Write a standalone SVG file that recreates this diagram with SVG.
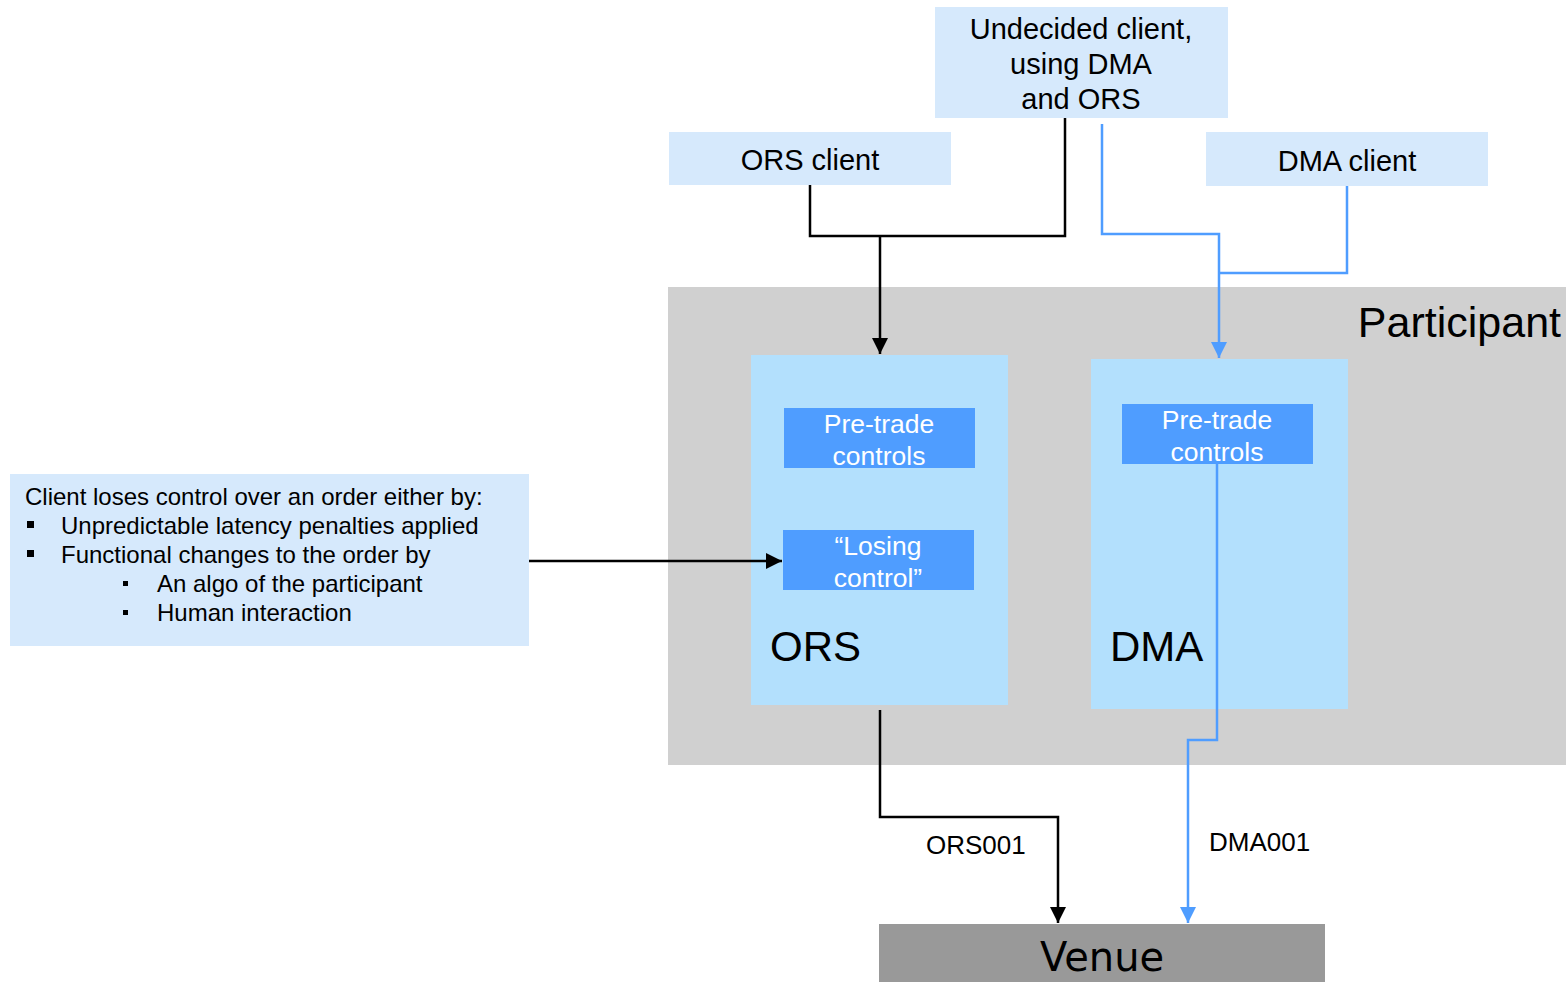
<svg xmlns="http://www.w3.org/2000/svg" width="1566" height="982" viewBox="0 0 1566 982">
<defs>
<style>
.client{fill:#d6e9fc}
.box{fill:#b3e0fd}
.ctl{fill:#4f9dff}
.t{font-family:"Liberation Sans",Arial,sans-serif;fill:#000}
.w{font-family:"Liberation Sans",Arial,sans-serif;fill:#fff;font-size:26.5px;text-anchor:middle}
.blk{stroke:#000;stroke-width:2.5;fill:none}
.blu{stroke:#4f9dff;stroke-width:2.5;fill:none}
</style>
<marker id="ablk" viewBox="0 0 10 10" refX="10" refY="5" markerWidth="16" markerHeight="16" orient="auto" markerUnits="userSpaceOnUse"><path d="M0,0 L10,5 L0,10 z" fill="#000"/></marker>
<marker id="ablu" viewBox="0 0 10 10" refX="10" refY="5" markerWidth="16" markerHeight="16" orient="auto" markerUnits="userSpaceOnUse"><path d="M0,0 L10,5 L0,10 z" fill="#4f9dff"/></marker>
</defs>
<rect width="1566" height="982" fill="#fff"/>
<g id="participant">
<rect x="668" y="287" width="898" height="478" fill="#d0d0d0"/>
<text class="t" x="1561" y="337" font-size="43" text-anchor="end">Participant</text>
</g>
<g id="undecided-client">
<rect class="client" x="935" y="7" width="293" height="111"/>
<text class="t" font-size="29" text-anchor="middle"><tspan x="1081" y="39">Undecided client,</tspan><tspan x="1081" y="74">using DMA</tspan><tspan x="1081" y="109">and ORS</tspan></text>
</g>
<g id="ors-client">
<rect class="client" x="669" y="132" width="282" height="53"/>
<text class="t" x="810" y="170" font-size="29" text-anchor="middle">ORS client</text>
</g>
<g id="dma-client">
<rect class="client" x="1206" y="132" width="282" height="54"/>
<text class="t" x="1347" y="171" font-size="29" text-anchor="middle">DMA client</text>
</g>
<g id="ors">
<rect class="box" x="751" y="355" width="257" height="350"/>
<text class="t" x="770" y="661" font-size="42">ORS</text>
</g>
<g id="ors-pretrade">
<rect class="ctl" x="784" y="408" width="191" height="60"/>
<text class="w"><tspan x="879" y="433">Pre-trade</tspan><tspan x="879" y="465">controls</tspan></text>
</g>
<g id="losing-control">
<rect class="ctl" x="783" y="530" width="191" height="60"/>
<text class="w"><tspan x="878" y="555">“Losing</tspan><tspan x="878" y="587">control”</tspan></text>
</g>
<g id="dma">
<rect class="box" x="1091" y="359" width="257" height="350"/>
<text class="t" x="1110" y="661" font-size="42">DMA</text>
</g>
<g id="dma-pretrade">
<rect class="ctl" x="1122" y="404" width="191" height="60"/>
<text class="w"><tspan x="1217" y="429">Pre-trade</tspan><tspan x="1217" y="461">controls</tspan></text>
</g>
<g id="note">
<rect class="client" x="10" y="474" width="519" height="172"/>
<text class="t" font-size="24"><tspan x="25" y="505">Client loses control over an order either by:</tspan><tspan x="61" y="534">Unpredictable latency penalties applied</tspan><tspan x="61" y="563">Functional changes to the order by</tspan><tspan x="157" y="592">An algo of the participant</tspan><tspan x="157" y="621">Human interaction</tspan></text>
<rect x="27" y="521" width="7" height="7" fill="#000"/>
<rect x="27" y="550" width="7" height="7" fill="#000"/>
<rect x="123" y="581" width="5" height="5" fill="#000"/>
<rect x="123" y="610" width="5" height="5" fill="#000"/>
</g>
<g id="venue">
<rect x="879" y="924" width="446" height="58" fill="#999999"/>
<text x="1102" y="971" font-family="DejaVu Sans, Verdana, sans-serif" font-size="40" text-anchor="middle" fill="#000">Venue</text>
</g>
<g id="connectors">
<polyline class="blk" points="810,185 810,236 1065,236 1065,118"/>
<polyline class="blk" points="880,236 880,354" marker-end="url(#ablk)"/>
<polyline class="blu" points="1102,124 1102,234 1219,234 1219,358" marker-end="url(#ablu)"/>
<polyline class="blu" points="1347,186 1347,273 1219,273"/>
<polyline class="blk" points="529,561 782,561" marker-end="url(#ablk)"/>
<polyline class="blk" points="880,710 880,817 1058,817 1058,923" marker-end="url(#ablk)"/>
<polyline class="blu" points="1217,464 1217,740 1188,740 1188,923" marker-end="url(#ablu)"/>
<text class="t" x="926" y="854" font-size="26">ORS001</text>
<text class="t" x="1209" y="851" font-size="26">DMA001</text>
</g>
</svg>
